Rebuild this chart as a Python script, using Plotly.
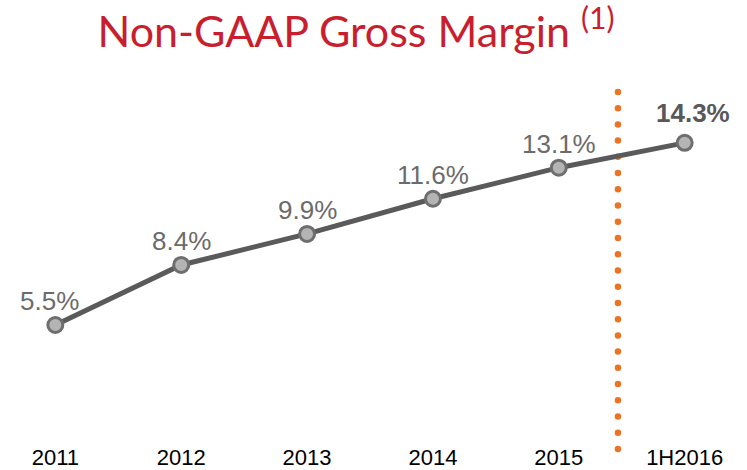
import numpy as np
import plotly.graph_objects as go

categories = ["2011", "2012", "2013", "2014", "2015", "1H2016"]
margins = [5.5, 8.4, 9.9, 11.6, 13.1, 14.3]
labels = ["5.5%", "8.4%", "9.9%", "11.6%", "13.1%", "<b>14.3%</b>"]

x_idx = list(range(len(categories)))

fig = go.Figure()

# orange dotted divider between 2015 and 1H2016
div_y = np.linspace(-0.49, 16.76, 23)
fig.add_trace(go.Scatter(
    x=[4.47] * len(div_y), y=div_y, mode="markers",
    marker=dict(size=6.5, color="#ea7324"),
    hoverinfo="skip", cliponaxis=False, showlegend=False,
))

fig.add_trace(go.Scatter(
    x=x_idx, y=margins, mode="lines+markers",
    line=dict(color="#5a5a5a", width=5),
    marker=dict(size=15, color="#b4b4b4", line=dict(color="#6e6e6e", width=3)),
    hoverinfo="skip", showlegend=False, cliponaxis=False,
))

for i, (v, t) in enumerate(zip(margins, labels)):
    last = i == len(margins) - 1
    fig.add_annotation(
        x=i, y=v, text=t, showarrow=False,
        xshift=(8 if last else (-6 if i == 0 else 0)),
        yshift=(30 if last else 24),
        font=dict(family="Liberation Sans, Arial, sans-serif", size=26,
                  color="#595959" if last else "#6b6b6b"),
    )

fig.update_layout(
    width=747, height=470,
    margin=dict(l=5, r=12, t=80, b=18, autoexpand=False),
    paper_bgcolor="white", plot_bgcolor="white",
    title=dict(
        text="Non-GAAP Gross Margin <sup>(1)</sup>",
        x=356 / 747, xanchor="center", y=1 - 32 / 470, yanchor="middle",
        font=dict(family="Lato, Open Sans, sans-serif", size=43, color="#c81e2d"),
    ),
    xaxis=dict(
        range=[-0.4, 5.4], tickmode="array", tickvals=x_idx, ticktext=categories,
        showgrid=False, zeroline=False, showline=False, ticks="",
        ticklabelstandoff=-10, automargin=False,
        tickfont=dict(family="Liberation Sans, Arial, sans-serif", size=22, color="#000000"),
        fixedrange=True,
    ),
    yaxis=dict(
        range=[-0.635, 17.336], visible=False, showgrid=False, zeroline=False,
        automargin=False, fixedrange=True,
    ),
)

fig.write_html(
    "out.html",
    config={"displayModeBar": False},
    post_script="document.body.style.margin='0';document.body.style.overflow='hidden';",
)
